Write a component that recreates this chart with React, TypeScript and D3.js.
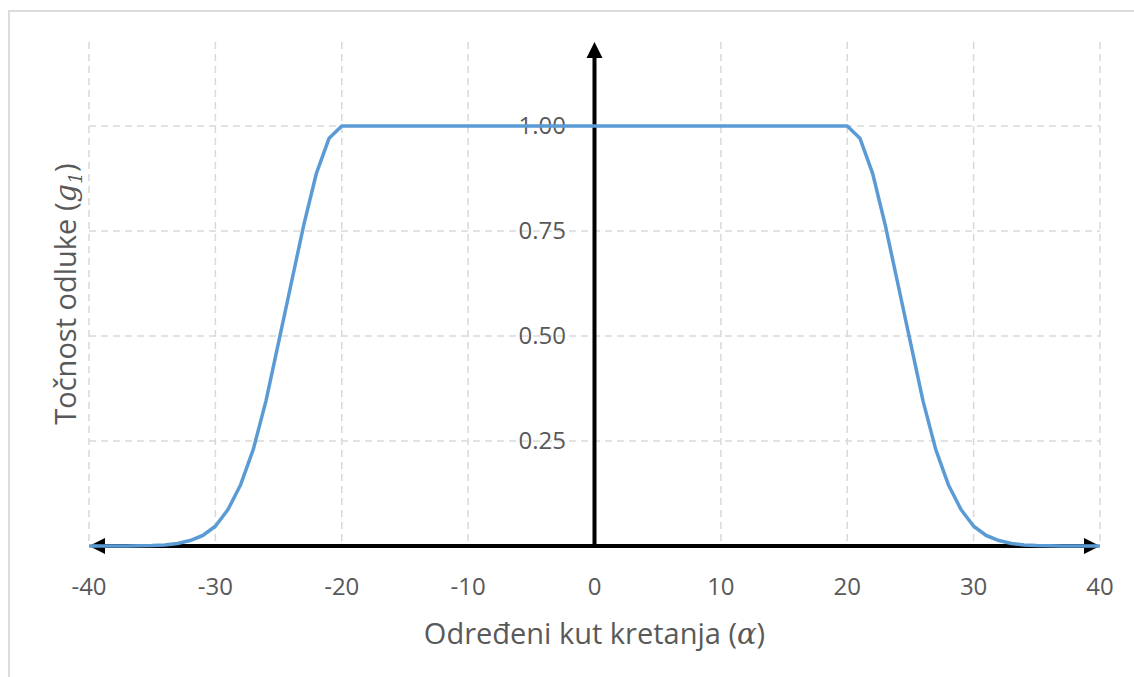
import React from "react";
import * as d3 from "d3";

const angles: number[] = [
  -40, -39, -38, -37, -36, -35, -34, -33, -32, -31, -30, -29, -28, -27, -26, -25, -24, -23, -22, -21,
  -20, -19, -18, -17, -16, -15, -14, -13, -12, -11, -10, -9, -8, -7, -6, -5, -4, -3, -2, -1,
  0, 1, 2, 3, 4, 5, 6, 7, 8, 9, 10, 11, 12, 13, 14, 15, 16, 17, 18, 19, 20,
  21, 22, 23, 24, 25, 26, 27, 28, 29, 30, 31, 32, 33, 34, 35, 36, 37, 38, 39, 40,
];

const accuracy: number[] = [
  0, 0, 0, 0, 0.0004, 0.001, 0.0025, 0.006, 0.013, 0.025, 0.047, 0.087, 0.146, 0.23, 0.345, 0.485, 0.625, 0.765, 0.888, 0.971,
  1, 1, 1, 1, 1, 1, 1, 1, 1, 1, 1, 1, 1, 1, 1, 1, 1, 1, 1, 1,
  1, 1, 1, 1, 1, 1, 1, 1, 1, 1, 1, 1, 1, 1, 1, 1, 1, 1, 1, 1, 1,
  0.971, 0.888, 0.765, 0.625, 0.485, 0.345, 0.23, 0.146, 0.087, 0.047, 0.025, 0.013, 0.006, 0.0025, 0.001, 0.0004, 0, 0, 0, 0,
];

const xTicks: number[] = [-40, -30, -20, -10, 0, 10, 20, 30, 40];
const yTicks: number[] = [0.25, 0.5, 0.75, 1.0];

const W = 1134;
const H = 677;
const FONT = "'Open Sans', 'Noto Sans', sans-serif";
const TEXT = "#595959";
const GRID = "#d9d9d9";

export default function App() {
  const x = d3.scaleLinear().domain([-40, 40]).range([89, 1100]);
  const y = d3.scaleLinear().domain([0, 1.2]).range([546, 42]);
  const pts = angles.map((a, i) => [a, accuracy[i]] as [number, number]);
  const line = d3
    .line<[number, number]>()
    .x((d) => x(d[0]))
    .y((d) => y(d[1]));
  const x0 = x(0);
  const yTop = y(1.2);
  const yBase = y(0);
  const xl = x(-40);
  const xr = x(40);

  return (
    <div style={{ position: "absolute", left: 0, top: 0 }}>
      <svg width={W} height={H} style={{ display: "block" }}>
        <rect x={0} y={0} width={W} height={H} fill="#fff" />
        {/* frame */}
        <line x1={9} y1={11} x2={W} y2={11} stroke="#dcdcdc" strokeWidth={2} />
        <line x1={9} y1={10} x2={9} y2={H} stroke="#dcdcdc" strokeWidth={2} />
        {/* grid */}
        {xTicks.map((t) => (
          <line
            key={"gx" + t}
            x1={x(t)}
            x2={x(t)}
            y1={yTop}
            y2={yBase}
            stroke={GRID}
            strokeWidth={1.5}
            strokeDasharray="7,5"
          />
        ))}
        {yTicks.map((t) => (
          <line
            key={"gy" + t}
            x1={xl}
            x2={xr}
            y1={y(t)}
            y2={y(t)}
            stroke={GRID}
            strokeWidth={1.5}
            strokeDasharray="7,5"
          />
        ))}
        {/* y tick labels */}
        {yTicks.map((t) => (
          <text
            key={"ty" + t}
            x={566}
            y={y(t)}
            dy="0.35em"
            textAnchor="end"
            fontFamily={FONT}
            fontSize={24}
            fill={TEXT}
          >
            {d3.format(".2f")(t)}
          </text>
        ))}
        {/* x tick labels */}
        {xTicks.map((t) => (
          <text
            key={"tx" + t}
            x={x(t)}
            y={595}
            textAnchor="middle"
            fontFamily={FONT}
            fontSize={24}
            fill={TEXT}
          >
            {t}
          </text>
        ))}
        {/* axes */}
        <line x1={xl + 10} x2={xr - 10} y1={yBase} y2={yBase} stroke="#000" strokeWidth={4} />
        <path d={`M${xl},${yBase} L${xl + 16},${yBase - 8} L${xl + 16},${yBase + 8} Z`} fill="#000" />
        <path d={`M${xr},${yBase} L${xr - 16},${yBase - 8} L${xr - 16},${yBase + 8} Z`} fill="#000" />
        <line x1={x0} x2={x0} y1={yBase} y2={yTop + 10} stroke="#000" strokeWidth={4} />
        <path d={`M${x0},${yTop} L${x0 - 8},${yTop + 16} L${x0 + 8},${yTop + 16} Z`} fill="#000" />
        {/* data line */}
        <path
          d={line(pts) || ""}
          fill="none"
          stroke="#5b9bd5"
          strokeWidth={3.5}
          strokeLinejoin="round"
        />
        {/* axis titles */}
        <text
          x={x0}
          y={644}
          textAnchor="middle"
          fontFamily={FONT}
          fontSize={29}
          fill={TEXT}
        >
          Određeni kut kretanja (
          <tspan fontFamily="'DejaVu Serif', serif" fontStyle="italic">α</tspan>)
        </text>
        <text
          transform={`translate(76, ${y(0.6)}) rotate(-90)`}
          textAnchor="middle"
          fontFamily={FONT}
          fontSize={29}
          fill={TEXT}
        >
          Točnost odluke (
          <tspan fontFamily="'DejaVu Serif', serif" fontStyle="italic">g</tspan>
          <tspan fontFamily="'DejaVu Serif', serif" fontStyle="italic" fontSize={19} dy={6}>1</tspan>
          <tspan dy={-6}>)</tspan>
        </text>
      </svg>
    </div>
  );
}
